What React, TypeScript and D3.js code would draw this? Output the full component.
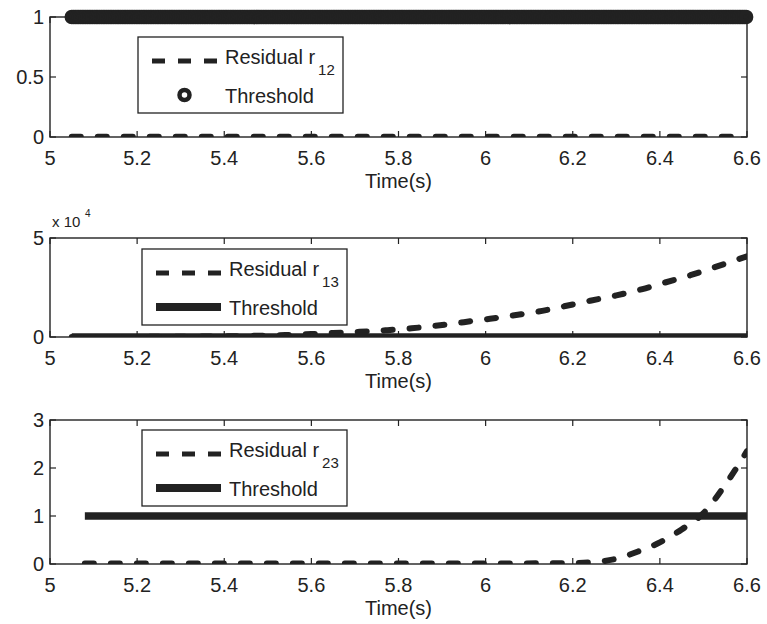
import React from "react";
import * as d3 from "d3";

// ---------- data ----------
const xTicks = [5, 5.2, 5.4, 5.6, 5.8, 6, 6.2, 6.4, 6.6];
const xTickLabels = ["5", "5.2", "5.4", "5.6", "5.8", "6", "6.2", "6.4", "6.6"];
const xLabel = "Time(s)";

// Panel 1: residual r12 and threshold (circle markers)
const p1YTicks = [0, 0.5, 1];
const p1YTickLabels = ["0", "0.5", "1"];
const r12Time = [5.05, 5.4, 5.8, 6.2, 6.6];
const r12Values = [0.003, 0.003, 0.003, 0.003, 0.003];
const thr1Time = d3.range(5.05, 6.6001, 0.004);
const thr1Level = 1;

// Panel 2: residual r13 and threshold (x 10^4)
const p2YTicks = [0, 50000];
const p2YTickLabels = ["0", "5"];
const r13Time = [5.05, 5.2, 5.3, 5.4, 5.47, 5.54, 5.6, 5.65, 5.71, 5.77, 5.83, 5.89, 5.95, 6.01, 6.07, 6.13, 6.18, 6.24, 6.3, 6.36, 6.41, 6.47, 6.52, 6.58, 6.6];
const r13Values = [0, 50, 150, 300, 600, 1000, 1500, 2000, 2600, 3400, 4400, 5800, 7500, 9200, 11100, 13200, 15500, 18300, 21000, 24200, 27400, 31200, 34800, 39300, 40800];
const thr2Time = [5.05, 6.6];
const thr2Values = [100, 100];

// Panel 3: residual r23 and threshold
const p3YTicks = [0, 1, 2, 3];
const p3YTickLabels = ["0", "1", "2", "3"];
const r23Time = [5.08, 5.5, 6.0, 6.2, 6.25, 6.3, 6.35, 6.4, 6.45, 6.5, 6.55, 6.6];
const r23Values = [0.01, 0.01, 0.01, 0.02, 0.04, 0.11, 0.26, 0.45, 0.72, 1.06, 1.65, 2.35];
const thr3Time = [5.08, 6.6];
const thr3Values = [1, 1];

const legendNames = [
  { main: "Residual r", sub: "12" },
  { main: "Residual r", sub: "13" },
  { main: "Residual r", sub: "23" },
];
const thresholdName = "Threshold";

// ---------- layout ----------
const W = 767;
const H = 624;
const X0 = 50;
const X1 = 747;
const INK = "#222";
const FONT = "'Liberation Sans', Arial, Helvetica, sans-serif";

const panels = [
  { top: 17, bottom: 137, domain: [0, 1], ticks: p1YTicks, labels: p1YTickLabels, legendX: 138, legendY: 37 },
  { top: 238, bottom: 337, domain: [0, 50000], ticks: p2YTicks, labels: p2YTickLabels, legendX: 142, legendY: 249 },
  { top: 420, bottom: 564, domain: [0, 3], ticks: p3YTicks, labels: p3YTickLabels, legendX: 142, legendY: 430 },
];

const x = d3.scaleLinear().domain([5, 6.6]).range([X0, X1]);

function Axes({ p, idx }: { p: any; idx: number }) {
  const y = d3.scaleLinear().domain(p.domain).range([p.bottom, p.top]);
  const tl = 6;
  return (
    <g>
      <rect x={X0} y={p.top} width={X1 - X0} height={p.bottom - p.top} fill="none" stroke={INK} strokeWidth={1.4} />
      {xTicks.map((t, i) => (
        <g key={"xt" + i}>
          <line x1={x(t)} x2={x(t)} y1={p.bottom} y2={p.bottom - tl} stroke={INK} strokeWidth={1.2} />
          <line x1={x(t)} x2={x(t)} y1={p.top} y2={p.top + tl} stroke={INK} strokeWidth={1.2} />
          <text x={x(t)} y={p.bottom + 28} textAnchor="middle" fontSize={20} fill={INK} fontFamily={FONT}>
            {xTickLabels[i]}
          </text>
        </g>
      ))}
      {p.ticks.map((t: number, i: number) => (
        <g key={"yt" + i}>
          <line x1={X0} x2={X0 + tl} y1={y(t)} y2={y(t)} stroke={INK} strokeWidth={1.2} />
          <line x1={X1} x2={X1 - tl} y1={y(t)} y2={y(t)} stroke={INK} strokeWidth={1.2} />
          <text x={44} y={y(t)} dy="0.36em" textAnchor="end" fontSize={20} fill={INK} fontFamily={FONT}>
            {p.labels[i]}
          </text>
        </g>
      ))}
      <text x={(X0 + X1) / 2} y={p.bottom + 51} textAnchor="middle" fontSize={20} fill={INK} fontFamily={FONT}>
        {xLabel}
      </text>
    </g>
  );
}

function Legend({ p, idx }: { p: any; idx: number }) {
  const bx = p.legendX;
  const by = p.legendY;
  const r1 = by + 24;
  const r2 = by + 58;
  const sx0 = bx + 14;
  const sx1 = bx + 79;
  return (
    <g>
      <rect x={bx} y={by} width={205} height={76} fill="#fff" stroke={INK} strokeWidth={1.3} />
      <line x1={sx0} x2={sx1} y1={r1} y2={r1} stroke={INK} strokeWidth={5} strokeDasharray="13,13" />
      {idx === 0 ? (
        <circle cx={(sx0 + sx1) / 2} cy={r2} r={5} fill="none" stroke={INK} strokeWidth={4.5} />
      ) : (
        <line x1={sx0} x2={sx1} y1={r2} y2={r2} stroke={INK} strokeWidth={8} />
      )}
      <text x={bx + 87} y={by + 26.5} fontSize={20} fill={INK} fontFamily={FONT}>
        {legendNames[idx].main}
        <tspan dx={3} dy={11} fontSize={15}>
          {legendNames[idx].sub}
        </tspan>
      </text>
      <text x={bx + 87} y={by + 65.5} fontSize={20} fill={INK} fontFamily={FONT}>
        {thresholdName}
      </text>
    </g>
  );
}

export default function App() {
  const ys = panels.map((p) => d3.scaleLinear().domain(p.domain).range([p.bottom, p.top]));
  const mk = (yS: any) =>
    d3
      .line<[number, number]>()
      .x((d) => x(d[0]))
      .y((d) => yS(d[1]))
      .curve(d3.curveMonotoneX);

  const zip = (a: number[], b: number[]) => a.map((t, i) => [t, b[i]] as [number, number]);

  const r12Path = mk(ys[0])(zip(r12Time, r12Values)) || "";
  const r13Path = mk(ys[1])(zip(r13Time, r13Values)) || "";
  const thr2Path = mk(ys[1])(zip(thr2Time, thr2Values)) || "";
  const r23Path = mk(ys[2])(zip(r23Time, r23Values)) || "";
  const thr3Path = mk(ys[2])(zip(thr3Time, thr3Values)) || "";

  const dashStyle = { stroke: INK, strokeWidth: 6, strokeDasharray: "9,17", strokeLinecap: "round" as const, fill: "none" };

  return (
    <svg width={W} height={H} style={{ position: "absolute", left: 0, top: 0, background: "#fff" }}>
      <rect x={0} y={0} width={W} height={H} fill="#fff" />
      <defs>
        {panels.map((p, i) => (
          <clipPath id={"clip" + i} key={i}>
            <rect x={X0} y={p.top} width={X1 - X0} height={p.bottom - p.top} />
          </clipPath>
        ))}
      </defs>

      {/* Panel 1 */}
      <g clipPath="url(#clip0)">
        <path d={r12Path} {...dashStyle} />
      </g>
      <Axes p={panels[0]} idx={0} />
      <g>
        {thr1Time.map((t, i) => (
          <circle key={i} cx={x(t)} cy={ys[0](thr1Level)} r={5} fill="none" stroke={INK} strokeWidth={4.5} />
        ))}
      </g>
      <Legend p={panels[0]} idx={0} />

      {/* Panel 2 */}
      <g clipPath="url(#clip1)">
        <path d={thr2Path} fill="none" stroke={INK} strokeWidth={7} />
        <path d={r13Path} {...dashStyle} />
      </g>
      <Axes p={panels[1]} idx={1} />
      <Legend p={panels[1]} idx={1} />
      <text x={52} y={227} fontSize={15} fill={INK} fontFamily={FONT}>
        x 10
      </text>
      <text x={85} y={217} fontSize={10} fill={INK} fontFamily={FONT}>
        4
      </text>

      {/* Panel 3 */}
      <g clipPath="url(#clip2)">
        <path d={thr3Path} fill="none" stroke={INK} strokeWidth={7.5} />
        <path d={r23Path} {...dashStyle} />
      </g>
      <Axes p={panels[2]} idx={2} />
      <Legend p={panels[2]} idx={2} />
    </svg>
  );
}
